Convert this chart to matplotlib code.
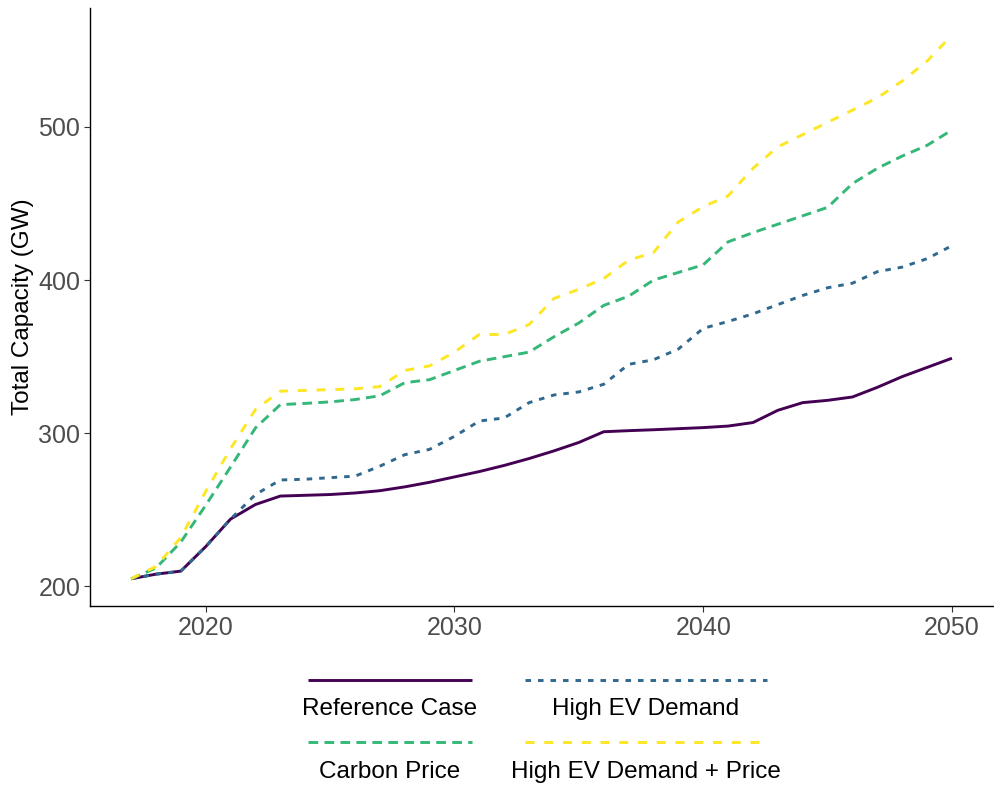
import matplotlib.pyplot as plt
from matplotlib.lines import Line2D

plt.rcParams["font.family"] = ["Liberation Sans", "DejaVu Sans"]
plt.rcParams["lines.scale_dashes"] = False

years = list(range(2017, 2051))

reference_case = [205, 208, 210, 226, 244, 253.5, 259, 259.5, 260, 261, 262.5, 265, 268,
                  271.5, 275, 279, 283.5, 288.5, 294, 301, 301.7, 302.3, 303, 303.7, 304.7,
                  307, 315, 320, 321.5, 323.7, 330, 337, 343, 349]
carbon_price = [205, 212, 229, 253, 278, 303.5, 318.7, 319.5, 320.5, 322, 324.5, 333, 335,
                341, 347, 350, 353, 363, 372, 383.5, 389.5, 400, 405, 410, 425, 431, 436.5,
                442, 447.5, 463, 473, 481, 488, 498]
high_ev = [205, 208, 210, 226, 244, 260, 269.5, 270, 271, 272, 278.5, 286, 289.5, 298, 308,
           310, 320, 325, 327, 332, 345, 348, 355, 368.5, 373, 378, 384, 390, 395, 398,
           405.5, 408.5, 414, 422.5]
high_ev_price = [205, 213, 232, 262, 290, 315.5, 327.5, 328, 328.5, 329, 330.5, 341, 344,
                 353, 364.5, 364.5, 371, 388, 394, 401, 413, 418, 438, 448, 455, 473, 487,
                 495, 503, 511, 519, 530, 543, 560]

series = [
    ("Reference Case", reference_case, "#440154", None),
    ("Carbon Price", carbon_price, "#35B779", (7.0, 4.5)),
    ("High EV Demand", high_ev, "#31688E", (4.0, 5.0)),
    ("High EV Demand + Price", high_ev_price, "#FDE725", (6.5, 7.0)),
]

fig = plt.figure(figsize=(9.95, 7.89), dpi=100)
ax = fig.add_axes([0.0905, 0.232, 0.9075, 0.758])

handles = {}
for name, vals, color, dash in series:
    line, = ax.plot(years, vals, color=color, lw=2.1, solid_capstyle="butt")
    if dash:
        line.set_dashes(dash)
    handles[name] = (color, dash)

ax.set_xlim(2015.35, 2051.65)
ax.set_ylim(187.25, 577.75)
ax.set_xticks([2020, 2030, 2040, 2050])
ax.set_yticks([200, 300, 400, 500])
ax.set_ylabel("Total Capacity (GW)", fontsize=17.5, color="black", labelpad=3)
ax.tick_params(axis="both", labelsize=18, labelcolor="#4D4D4D", color="#333333",
               length=4, width=0.8, pad=3)
for s in ["top", "right"]:
    ax.spines[s].set_visible(False)
for s in ["left", "bottom"]:
    ax.spines[s].set_color("black")
    ax.spines[s].set_linewidth(1.0)

# legend below the plot: key line above its label, two columns
W, H = 995.0, 789.0
cols = [
    (308, 472, ["Reference Case", "Carbon Price"]),
    (525, 767, ["High EV Demand", "High EV Demand + Price"]),
]
key_y = [680, 742]
lab_y = [709, 772]
for x0, x1, names in cols:
    for r, name in enumerate(names):
        color, dash = handles[name]
        ln = Line2D([x0 / W, x1 / W], [1 - key_y[r] / H] * 2, transform=fig.transFigure,
                    color=color, lw=2.1, solid_capstyle="butt")
        if dash:
            ln.set_dashes(dash)
        fig.add_artist(ln)
        fig.text((x0 + x1) / 2 / W, 1 - lab_y[r] / H, name, ha="center", va="center",
                 fontsize=17.5, color="black")

fig.savefig("out.png", dpi=100)
